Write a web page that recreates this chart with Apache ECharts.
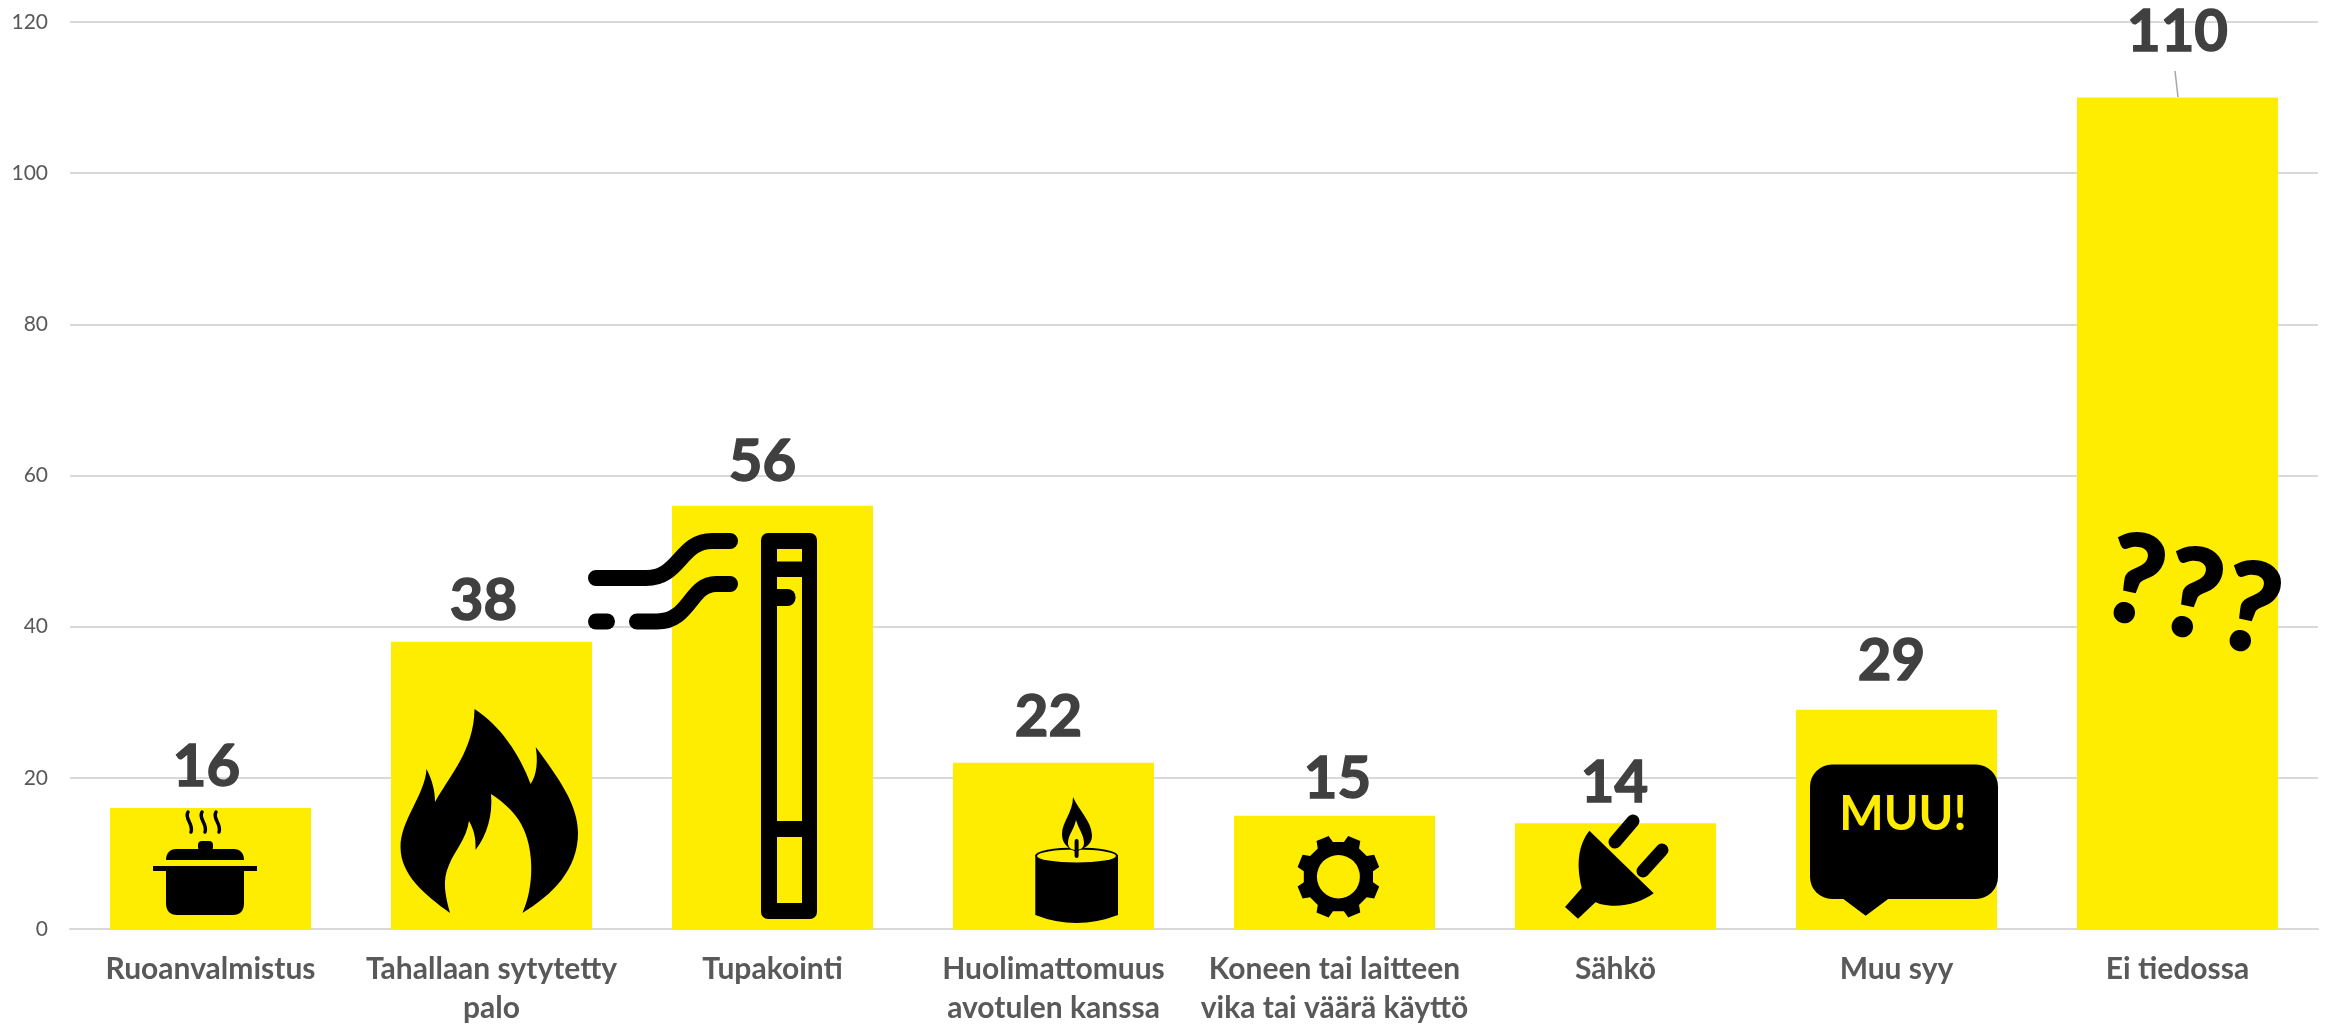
<!DOCTYPE html>
<html>
<head>
<meta charset="utf-8">
<style>html,body{margin:0;padding:0;background:#fff}#chart{width:2331px;height:1024px}</style>
<script src="https://cdn.jsdelivr.net/npm/echarts@6/dist/echarts.min.js"></script>
</head>
<body>
<div id="chart"></div>
<script>
const categories = ['Ruoanvalmistus', 'Tahallaan sytytetty\npalo', 'Tupakointi', 'Huolimattomuus\navotulen kanssa',
  'Koneen tai laitteen\nvika tai väärä käyttö', 'Sähkö', 'Muu syy', 'Ei tiedossa'];
const counts = [16, 38, 56, 22, 15, 14, 29, 110];

// hand moved data labels, same as in the original chart
const labelShiftX = [-4, -8, -10, -5, 3, -1, -5, 0];
const labelShiftY = [-12, -11, -14, -16, -7, -11, -20, -36];

const YELLOW = '#FFED00';
const FONT = 'Lato, "Open Sans", sans-serif';

function ellipse(cx, cy, rx, ry) {
  return `M${cx - rx} ${cy}A${rx} ${ry} 0 1 0 ${cx + rx} ${cy}A${rx} ${ry} 0 1 0 ${cx - rx} ${cy}Z`;
}

function gear(cx, cy, rOut, rIn, teeth) {
  let d = '';
  const step = Math.PI * 2 / teeth;
  for (let i = 0; i < teeth; i++) {
    const a = step * (i + 0.5) - Math.PI / 2;
    const pts = [[-0.30, rIn], [-0.20, rOut], [0.20, rOut], [0.30, rIn]];
    for (const [f, r] of pts) {
      const t = a + f * step;
      d += (d ? 'L' : 'M') + (cx + r * Math.cos(t)).toFixed(1) + ' ' + (cy + r * Math.sin(t)).toFixed(1);
    }
  }
  return d + 'Z';
}

function fill(d, color) {
  return {type: 'path', shape: {pathData: d}, style: {fill: color || '#000'}};
}
function stroke(d, width) {
  return {type: 'path', shape: {pathData: d},
    style: {fill: 'none', stroke: '#000', lineWidth: width, lineCap: 'round', lineJoin: 'round'}};
}
function box(x, y, w, h, r, color) {
  return {type: 'rect', shape: {x: x, y: y, width: w, height: h, r: r}, style: {fill: color || '#000'}};
}
function question(x, y) {
  return {type: 'text', x: x, y: y, rotation: -0.22,
    style: {text: '?', font: 'bold 122px ' + FONT, fill: '#000', stroke: '#000', lineWidth: 3, align: 'center', verticalAlign: 'middle'}};
}

const potIcon = [
  stroke('M188 812C184 819 194 824 191 832', 3.5),
  stroke('M202 812C198 819 208 824 205 832', 3.5),
  stroke('M216 812C212 819 222 824 219 832', 3.5),
  box(198, 841, 15, 10, 4),
  fill('M166 860C166 853 170 849 176 849H234C240 849 244 853 244 860Z'),
  box(153, 866, 104, 5, 0),
  fill('M166 868H244V903C244 911 240 915 233 915H177C170 915 166 911 166 903Z')
];

const flameIcon = [
  fill('M474.5 709C500 725 520 755 530.6 784C537 775 538 760 535.7 747C560 780 578 805 578 833' +
    'C578 870 552 895 522.4 913C535 885 533 850 524 830C518 815 505 803 491 794C493 815 487 835 475.5 850' +
    'C476 838 474 830 469 821C466 840 455 850 449 865C442 880 445 895 450 913C425 895 400.5 875 400.5 847' +
    'C400.5 820 425 795 426.5 769C432 780 435 790 435 802C450 775 474 750 474.5 709Z')
];

const cigaretteIcon = [
  box(761, 533, 56, 386, 7),
  box(777, 549, 25, 12.5, 0, YELLOW),
  box(777, 577, 25, 244, 0, YELLOW),
  box(777, 837, 25, 66, 0, YELLOW),
  box(777, 589, 18.5, 17, [0, 8, 8, 0]),
  stroke('M596 578H646C680 578 680 541 712 541H730', 16),
  stroke('M596 621.5H607', 16),
  stroke('M637 621.5H657C690 621.5 690 584 716 584H730', 16)
];

const candleIcon = [
  fill('M1035.3 855V915Q1076 931 1118 915V855Z'),
  fill(ellipse(1076.5, 855.5, 41.3, 8)),
  fill(ellipse(1076.5, 856, 39.5, 6.5), YELLOW),
  fill('M1073 797C1080 812 1092 822 1092 836C1092 845 1084 848 1076 852C1068 848 1062 844 1062 834C1062 822 1073 812 1073 797Z'),
  fill('M1076 820C1079 830 1084 835 1084 843C1084 848 1080 850 1076 850C1072 850 1068 848 1068 843C1068 835 1074 830 1076 820Z', YELLOW),
  box(1074.6, 839, 4, 19, 2)
];

const gearIcon = [
  fill(gear(1338.4, 876.7, 42, 35, 8)),
  fill(ellipse(1338.4, 876.7, 21.5, 21.7), YELLOW)
];

const plugIcon = [
  fill('M1589.4 830.7L1653.7 893.3C1640 903 1620 909 1600 904C1590 900 1584 895 1581.7 888C1576 865 1578 845 1589.4 830.7Z'),
  fill('M1581.7 888L1565 907L1578 918.7L1596 901.7Z'),
  stroke('M1615 842L1633 821', 13),
  stroke('M1643 871L1662 850', 13)
];

const bubbleIcon = [
  box(1810, 764.5, 188, 134.5, 22),
  fill('M1842 898L1865.7 915.7L1889.5 898Z'),
  {type: 'text', x: 1903, y: 815,
    style: {text: 'MUU!', font: 'bold 47px ' + FONT, fill: YELLOW, align: 'center', verticalAlign: 'middle'}}
];

const questionIcons = [question(2134, 583), question(2192, 597), question(2250, 611)];

const leaderLine = {type: 'line', shape: {x1: 2175, y1: 71, x2: 2178, y2: 97},
  style: {stroke: '#A6A6A6', lineWidth: 1.5}};

const allIcons = [].concat(potIcon, flameIcon, cigaretteIcon, candleIcon, gearIcon, plugIcon, bubbleIcon, questionIcons, [leaderLine]);

const chart = echarts.init(document.getElementById('chart'), null, {renderer: 'canvas'});
chart.setOption({
  animation: false,
  backgroundColor: '#fff',
  grid: {left: 70, right: 13, top: 22, bottom: 95, outerBoundsMode: 'none'},
  xAxis: {
    type: 'category',
    data: categories,
    axisTick: {show: false},
    axisLine: {lineStyle: {color: '#D9D9D9', width: 2}},
    axisLabel: {interval: 0, margin: 21, color: '#595959', fontFamily: FONT, fontWeight: 'bold', fontSize: 30, lineHeight: 39, verticalAlign: 'top'}
  },
  yAxis: {
    type: 'value',
    min: 0,
    max: 120,
    interval: 20,
    axisLine: {show: false},
    axisTick: {show: false},
    splitLine: {lineStyle: {color: '#D9D9D9', width: 2}},
    axisLabel: {margin: 22, color: '#595959', fontFamily: FONT, fontSize: 21}
  },
  series: [{
    type: 'bar',
    barWidth: 201,
    itemStyle: {color: YELLOW},
    data: counts.map((v, i) => ({
      value: v,
      label: {offset: [labelShiftX[i], labelShiftY[i]]}
    })),
    label: {show: true, position: 'top', distance: 0, color: '#404040', fontFamily: FONT, fontWeight: 'bold', fontSize: 58,
      textBorderColor: '#404040', textBorderWidth: 1.5}
  }, {
    // icons on top of the bars
    type: 'custom',
    coordinateSystem: 'none',
    z: 10,
    silent: true,
    data: [0],
    renderItem: function () {
      return {type: 'group', children: allIcons};
    }
  }]
});
</script>
</body>
</html>
